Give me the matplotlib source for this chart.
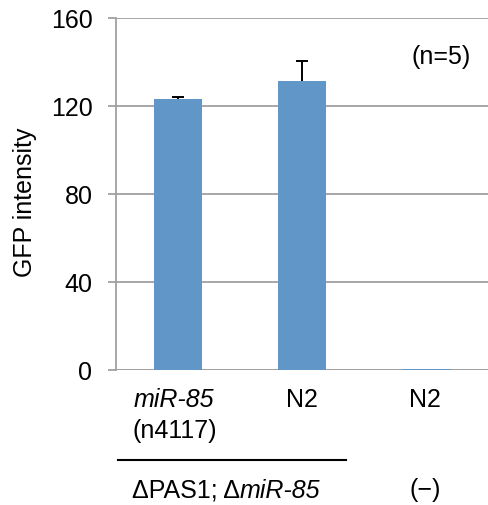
import matplotlib.pyplot as plt

plt.rcParams['font.family'] = ['Liberation Sans', 'DejaVu Sans']

# data
groups = ['miR-85\n(n4117)', 'N2', 'N2']
gfp = [123.2, 131.5, 0.6]
err = [0.8, 9.0, 0.0]
yticks = [0, 40, 80, 120, 160]

FS = 18
fig = plt.figure(figsize=(4.88, 5.06), dpi=100)
ax = fig.add_axes([116 / 488, 1 - 371 / 506, 372 / 488, 352 / 506])

w = 0.395
x = list(range(len(gfp)))
ax.bar(x, gfp, width=w, color='#6196c9', zorder=3)

# upward-only error bars (Excel style, no cap at the bar top)
cap = 0.045
for xi, g, e in zip(x, gfp, err):
    if e > 0:
        ax.vlines(xi, g, g + e, color='black', linewidth=1.4, zorder=4)
        ax.hlines(g + e, xi - cap, xi + cap, color='black', linewidth=1.4, zorder=4)

ax.set_xlim(-0.5, 2.5)
ax.set_ylim(0, 160)
ax.set_yticks(yticks)
ax.yaxis.grid(True, color='#a0a0a0', linewidth=1.3, zorder=0)
for side in ['top', 'right', 'bottom']:
    ax.spines[side].set_visible(False)
ax.spines['left'].set_color('#a0a0a0')
ax.spines['left'].set_linewidth(1.3)
ax.axhline(0, color='#a0a0a0', linewidth=1.3, zorder=2)
ax.tick_params(axis='y', length=6, width=1.3, color='#a0a0a0', pad=11, labelsize=FS)
ax.set_xticks([])

fig.text(25 / 488, 1 - 202 / 506, 'GFP intensity', rotation=90, fontsize=FS,
         ha='center', va='center')
ax.text(0.874, 0.892, '(n=5)', transform=ax.transAxes, fontsize=FS,
        ha='center', va='center')

# category labels below the axis
tr = ax.get_xaxis_transform()
top, bottom = groups[0].split('\n')
ax.text(-0.03, -0.082, top, style='italic', transform=tr, fontsize=FS,
        ha='center', va='center')
ax.text(-0.03, -0.170, bottom, transform=tr, fontsize=FS, ha='center', va='center')
ax.text(1.0, -0.082, groups[1], transform=tr, fontsize=FS, ha='center', va='center')
ax.text(1.99, -0.082, groups[2], transform=tr, fontsize=FS, ha='center', va='center')

ax.plot([-0.484, 1.355], [-0.256, -0.256], transform=tr, color='black',
        linewidth=1.5, clip_on=False)
t1 = ax.text(-0.371, -0.36, '\u0394PAS1; \u0394', transform=tr, fontsize=FS,
             ha='left', va='baseline')
ax.annotate('miR-85', xy=(1, 0), xycoords=t1, fontsize=FS, style='italic',
            ha='left', va='bottom')
ax.text(1.99, -0.338, '(\u2212)', transform=tr, fontsize=FS, ha='center', va='center')

fig.savefig('out.png', dpi=100)
